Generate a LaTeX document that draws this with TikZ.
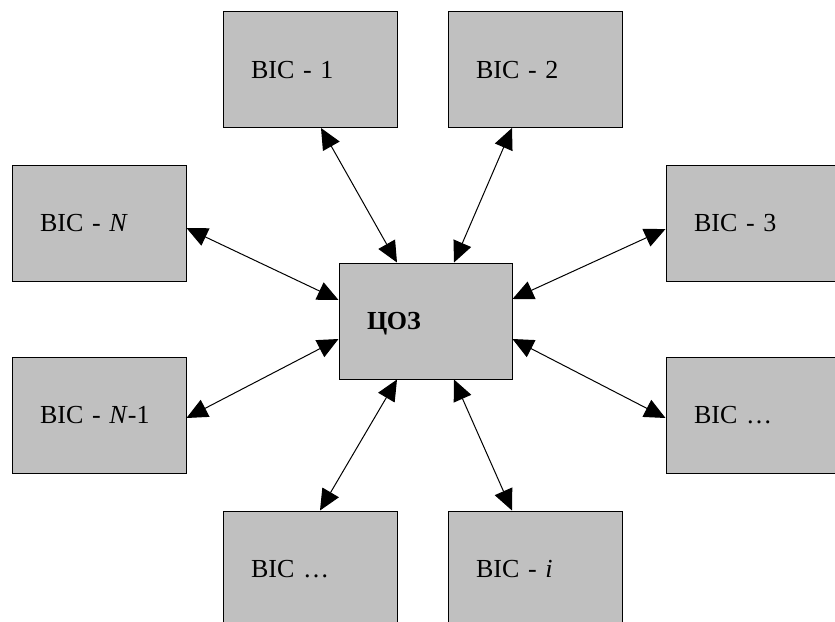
\documentclass[tikz,border=0pt]{standalone}
\usepackage{fontspec}
\setmainfont{Liberation Serif}
\usetikzlibrary{positioning,calc,arrows.meta}
\definecolor{boxgray}{RGB}{192,192,192}
\begin{document}
\begin{tikzpicture}[x=1pt,y=-1pt]
    \tikzstyle{every node}=[font=\fontsize{26}{30}\selectfont]
    \tikzstyle{station}=[rectangle,draw,line width=1pt,fill=boxgray,minimum height=116,inner xsep=28,text width=118,align=left,text depth=0pt]
    \tikzstyle{link}=[<->,>={Triangle[length=21pt,width=19pt]},line width=1pt]
    \useasboundingbox (0,0) rectangle (835,621);
    \clip (0,0) rectangle (835,621);
    {
        \node[station,text width=117] (coz) at (425.5,321) {\textbf{ЦОЗ}};
        \node[station] (bic1) at (310,69.5) {BIC - 1};
        \node[station] (bic2) at (535,69.5) {BIC - 2};
        \node[station] (bicn) at (99,223) {BIC - \textit{N}};
        \node[station] (bicn1) at (99,415) {BIC - \textit{N}-1};
        \node[station] (bic3) at (753,223) {BIC - 3};
        \node[station] (bicr) at (753,415) {BIC …};
        \node[station] (bicb) at (310,569) {BIC …};
        \node[station] (bici) at (535,569) {BIC - \textit{i}};
        % links to the centre
        \draw[link] ($(bic1.south)+(11,0)$) -- ($(coz.north)+(-28.5,0)$);
        \draw[link] ($(bic2.south)+(-23,0)$) -- ($(coz.north)+(28.5,0)$);
        \draw[link] ($(bicn.east)+(0,5)$) -- ($(coz.west)+(0,-21)$);
        \draw[link] ($(bicn1.east)+(0,3)$) -- ($(coz.west)+(0,18)$);
        \draw[link] ($(bic3.west)+(0,6)$) -- ($(coz.east)+(0,-22)$);
        \draw[link] ($(bicr.west)+(0,3)$) -- ($(coz.east)+(0,18)$);
        \draw[link] ($(bicb.north)+(10,0)$) -- ($(coz.south)+(-28.5,0)$);
        \draw[link] ($(bici.north)+(-23,0)$) -- ($(coz.south)+(28.5,0)$);
    }
\end{tikzpicture}
\end{document}
